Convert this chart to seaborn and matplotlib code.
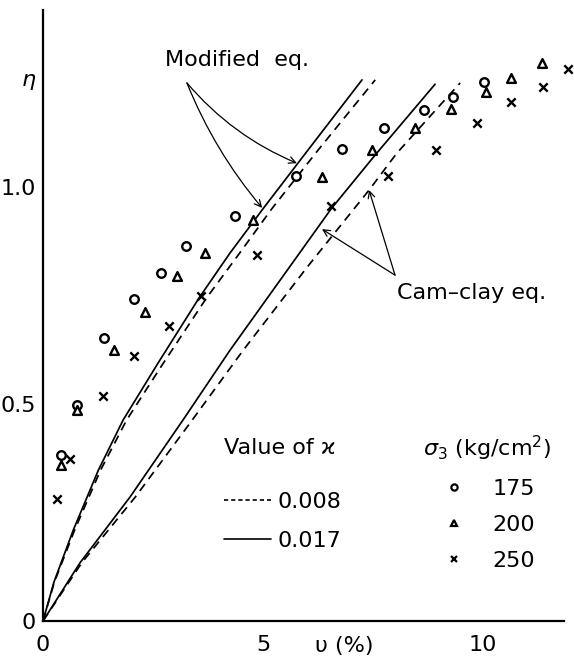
import matplotlib
matplotlib.use("Agg")
import matplotlib.pyplot as plt
from matplotlib.lines import Line2D
import seaborn as sns
import pandas as pd

# ---------------- data ----------------
# measured points, sigma3 = 175, 200, 250 kg/cm2
v175 = [0.41, 0.77, 1.39, 2.07, 2.68, 3.25, 4.36, 5.75, 6.79, 7.75, 8.65, 9.32, 10.02]
e175 = [0.382, 0.498, 0.653, 0.742, 0.803, 0.864, 0.934, 1.025, 1.088, 1.135, 1.178, 1.208, 1.242]
v200 = [0.40, 0.77, 1.61, 2.32, 3.05, 3.68, 4.77, 6.33, 7.47, 8.45, 9.27, 10.06, 10.64, 11.33]
e200 = [0.359, 0.486, 0.624, 0.713, 0.795, 0.847, 0.924, 1.023, 1.086, 1.137, 1.180, 1.220, 1.251, 1.285]
v250 = [0.31, 0.61, 1.37, 2.07, 2.87, 3.58, 4.87, 6.55, 7.85, 8.92, 9.86, 10.64, 11.36, 11.93]
e250 = [0.281, 0.373, 0.518, 0.611, 0.680, 0.749, 0.843, 0.956, 1.025, 1.085, 1.147, 1.197, 1.231, 1.272]

# Modified eq. curves
mod_017_v = [0, 0.25, 0.69, 1.26, 1.82, 2.6, 3.55, 4.25, 5.0, 6.02, 7.25]
mod_017_e = [0, 0.09, 0.21, 0.348, 0.463, 0.592, 0.745, 0.848, 0.95, 1.085, 1.247]
mod_008_v = [0, 0.26, 0.72, 1.31, 1.9, 2.72, 3.72, 4.47, 5.2, 6.25, 7.55]
mod_008_e = [0, 0.09, 0.21, 0.348, 0.463, 0.592, 0.745, 0.848, 0.95, 1.085, 1.247]
# Cam-clay eq. curves
cam_017_v = [0, 0.84, 1.98, 3.18, 4.25, 5.4, 6.55, 7.55, 8.91]
cam_017_e = [0, 0.134, 0.286, 0.463, 0.624, 0.787, 0.95, 1.074, 1.237]
cam_008_v = [0, 0.88, 2.1, 3.34, 4.55, 6.0, 7.41, 8.04, 9.48]
cam_008_e = [0, 0.134, 0.286, 0.456, 0.624, 0.815, 0.993, 1.078, 1.24]

kappa_labels = ["0.008", "0.017"]
sigma_labels = ["175", "200", "250"]
x_ticks = [0, 2.5, 5, 7.5, 10]
x_ticklabels = ["0", "", "5", "", "10"]
y_ticks = [0, 0.25, 0.5, 0.75, 1.0, 1.25]
y_ticklabels = ["0", "", "0.5", "", "1.0", r"$\eta$"]

# ---------------- style ----------------
sns.set_theme(style="white")
plt.rcParams["font.family"] = ["DejaVu Sans"]
plt.rcParams["mathtext.fontset"] = "dejavusans"
for k in ["text.color", "axes.labelcolor", "xtick.color", "ytick.color",
          "axes.edgecolor"]:
    plt.rcParams[k] = "black"
FS = 16

W, H = 574, 659
fig = plt.figure(figsize=(W / 100, H / 100), dpi=100)
ax = fig.add_axes([43 / W, 38 / H, (564 - 43) / W, (621 - 10) / H])

# curves
curves = [
    (mod_017_v, mod_017_e, "-"),
    (mod_008_v, mod_008_e, (0, (5, 3.5))),
    (cam_017_v, cam_017_e, "-"),
    (cam_008_v, cam_008_e, (0, (5, 3.5))),
]
for v, e, ls in curves:
    df = pd.DataFrame({"v": v, "eta": e})
    sns.lineplot(data=df, x="v", y="eta", ax=ax, color="black", lw=1.25,
                 linestyle=ls, sort=False, estimator=None, legend=False)

# points
mk = dict(color="black", legend=False, clip_on=False, zorder=5)
sns.scatterplot(x=v175, y=e175, ax=ax, marker="o", s=38, facecolor="white",
                edgecolor="black", linewidth=1.7, **mk)
sns.scatterplot(x=v200, y=e200, ax=ax, marker="^", s=40, facecolor="white",
                edgecolor="black", linewidth=1.7, **mk)
sns.scatterplot(x=v250, y=e250, ax=ax, marker="x", s=36, linewidth=1.7, **mk)

# axes
ax.set_xlim(0, 11.84)
ax.set_ylim(0, 1.408)
for s in ["top", "right"]:
    ax.spines[s].set_visible(False)
for s in ["left", "bottom"]:
    ax.spines[s].set_linewidth(1.6)
    ax.spines[s].set_color("black")
ax.set_xticks(x_ticks)
ax.set_xticklabels(x_ticklabels)
ax.set_yticks(y_ticks)
ax.set_yticklabels(y_ticklabels)
ax.tick_params(direction="in", length=6, width=1.2, colors="black",
               labelsize=FS)
ax.tick_params(axis="x", pad=10)
ax.tick_params(axis="y", pad=5)
ax.set_xlabel("")
ax.set_ylabel("")
ax.text(6.84, -0.025, "υ (%)", transform=ax.get_xaxis_transform(),
        ha="center", va="top", fontsize=FS)

# annotations
arrow = dict(arrowstyle="->", color="black", lw=0.9, shrinkA=0, shrinkB=0)
ax.text(4.41, 1.293, "Modified  eq.", ha="center", va="center", fontsize=FS)
ax.annotate("", xy=(4.98, 0.952), xytext=(3.27, 1.24),
            arrowprops=dict(connectionstyle="arc3,rad=0.08", **arrow))
ax.annotate("", xy=(5.77, 1.055), xytext=(3.27, 1.24),
            arrowprops=dict(connectionstyle="arc3,rad=0.12", **arrow))
ax.text(9.73, 0.756, "Cam–clay eq.", ha="center", va="center", fontsize=FS)
ax.annotate("", xy=(6.34, 0.903), xytext=(8.0, 0.797),
            arrowprops=dict(connectionstyle="arc3,rad=0", **arrow))
ax.annotate("", xy=(7.41, 0.993), xytext=(8.0, 0.797),
            arrowprops=dict(connectionstyle="arc3,rad=0", **arrow))

# legends
def fx(px):
    return px / W

def fy(py):
    return 1 - py / H

fig.text(fx(224), fy(448), "Value of ϰ", ha="left", va="center", fontsize=FS)
fig.text(fx(423), fy(448), r"$\sigma_3$ (kg/cm$^2$)", ha="left", va="center",
         fontsize=FS)

h1 = [Line2D([], [], color="black", lw=1.2, linestyle=(0, (2.5, 1.8))),
      Line2D([], [], color="black", lw=1.2, linestyle="-")]
leg1 = ax.legend(h1, kappa_labels, loc="upper left",
                 bbox_to_anchor=(fx(224), fy(492)), bbox_transform=fig.transFigure,
                 frameon=False, fontsize=FS, borderpad=0, borderaxespad=0,
                 handlelength=2.1, handletextpad=0.3, labelspacing=0.85)
ax.add_artist(leg1)

h2 = [Line2D([], [], color="black", marker="o", ms=4.5, mew=1.6, mfc="white", ls=""),
      Line2D([], [], color="black", marker="^", ms=4.5, mew=1.6, mfc="white", ls=""),
      Line2D([], [], color="black", marker="x", ms=4.5, mew=1.6, ls="")]
leg2 = ax.legend(h2, sigma_labels, loc="upper left",
                 bbox_to_anchor=(fx(446), fy(479)), bbox_transform=fig.transFigure,
                 frameon=False, fontsize=FS, borderpad=0, borderaxespad=0,
                 handlelength=0.7, handletextpad=1.4, labelspacing=0.72)

fig.savefig("out.png", dpi=100)
